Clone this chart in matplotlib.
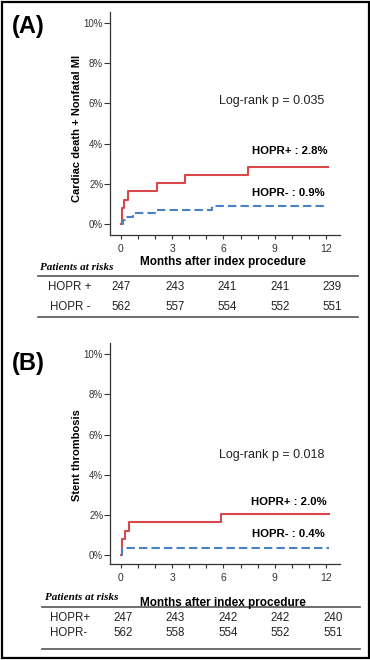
import matplotlib
matplotlib.use("Agg")
import matplotlib.pyplot as plt
from matplotlib.lines import Line2D
from matplotlib.patches import Rectangle

plt.rcParams['font.family'] = ['Liberation Sans', 'DejaVu Sans']

# ---- data ----
months = [0, 3, 6, 9, 12]

# (A) cardiac death + nonfatal MI, cumulative %
a_pos_t = [0, 0.05, 0.2, 0.4, 2.1, 3.75, 7.45, 12.1]
a_pos_y = [0, 0.81, 1.21, 1.62, 2.02, 2.43, 2.83, 2.83]
a_neg_t = [0, 0.1, 0.25, 0.7, 2.0, 5.35, 12.1]
a_neg_y = [0, 0.18, 0.36, 0.53, 0.71, 0.89, 0.89]

# (B) stent thrombosis, cumulative %
b_pos_t = [0, 0.05, 0.25, 0.45, 5.85, 12.2]
b_pos_y = [0, 0.81, 1.21, 1.62, 2.02, 2.02]
b_neg_t = [0, 0.05, 12.2]
b_neg_y = [0, 0.36, 0.36]

a_risk_labels = ["HOPR +", "HOPR -"]
a_risk_pos = [247, 243, 241, 241, 239]
a_risk_neg = [562, 557, 554, 552, 551]
b_risk_labels = ["HOPR+", "HOPR-"]
b_risk_pos = [247, 243, 242, 242, 240]
b_risk_neg = [562, 558, 554, 552, 551]

RED = "#d9474a"
BLUE = "#4a80c8"
W, H = 370, 660

fig = plt.figure(figsize=(W / 100, H / 100), dpi=100)


def fx(x):
    return x / W


def fy(y):
    return 1 - y / H


def panel(top, bottom, pos_t, pos_y, neg_t, neg_y, ylabel, ylab_y, letter,
          logrank, pos_txt, neg_txt, pos_txt_y, neg_txt_y, ylim, letter_y, lr_y):
    ax = fig.add_axes([fx(110), fy(bottom), fx(340) - fx(110), fy(top) - fy(bottom)])
    ax.step(pos_t, pos_y, where='post', color=RED, lw=1.5)
    ax.step(neg_t, neg_y, where='post', color=BLUE, lw=1.5, dashes=(4, 2))
    ax.set_xlim(-0.64, 12.82)
    ax.set_ylim(*ylim)
    ax.set_xticks(range(13))
    ax.set_xticklabels([str(m) if m in months else "" for m in range(13)])
    ax.set_yticks([0, 2, 4, 6, 8, 10])
    ax.set_yticklabels(["0%", "2%", "4%", "6%", "8%", "10%"])
    for s in ['top', 'right']:
        ax.spines[s].set_visible(False)
    for s in ['left', 'bottom']:
        ax.spines[s].set_color('#333333')
        ax.spines[s].set_linewidth(0.9)
    ax.tick_params(axis='x', length=3.1, width=0.8, pad=3.5, labelsize=7.5,
                   colors='#333333')
    ax.tick_params(axis='y', length=4.3, width=0.8, pad=0.6, labelsize=7,
                   colors='#333333')
    fig.text(fx(77), fy(ylab_y), ylabel, rotation=90, fontsize=8,
             fontweight='bold', ha='center', va='center')
    fig.text(fx(28), fy(letter_y), letter, fontsize=17, fontweight='bold',
             ha='center', va='center')
    fig.text(fx(272), fy(lr_y), logrank, fontsize=9, ha='center', va='center',
             color='#222222')
    fig.text(fx(327), fy(pos_txt_y), pos_txt, fontsize=8.2, fontweight='bold',
             ha='right', va='center')
    fig.text(fx(325), fy(neg_txt_y), neg_txt, fontsize=8.2, fontweight='bold',
             ha='right', va='center')
    return ax


def risk_table(xlab_y, pat_x, pat_y, line_y, rows_y, bottom_y, labels, pos, neg,
               num_x, lab_x, lab_ha, line_x):
    fig.text(fx(223), fy(xlab_y), "Months after index procedure", fontsize=8.5,
             fontweight='bold', ha='center', va='center')
    fig.text(fx(pat_x), fy(pat_y), "Patients at risks", fontsize=8,
             fontweight='bold', fontstyle='italic', family='Liberation Serif',
             ha='left', va='center')
    for ly in (line_y, bottom_y):
        fig.add_artist(Line2D([fx(line_x[0]), fx(line_x[1])], [fy(ly), fy(ly)],
                              color='#555555', lw=1.2))
    for lab, vals, ry in zip(labels, (pos, neg), rows_y):
        fig.text(fx(lab_x), fy(ry), lab, fontsize=8.3, ha=lab_ha, va='center',
                 color='#222222')
        for v, x in zip(vals, num_x):
            fig.text(fx(x), fy(ry), str(v), fontsize=8.3, ha='center',
                     va='center', color='#222222')


panel(12, 234.7, a_pos_t, a_pos_y, a_neg_t, a_neg_y,
      "Cardiac death + Nonfatal MI", 128, "(A)", "Log-rank p = 0.035",
      "HOPR+ : 2.8%", "HOPR- : 0.9%", 151, 193, (-0.53, 10.55), 27, 101)
risk_table(262, 40, 267, 276, (287, 307), 317, a_risk_labels, a_risk_pos,
           a_risk_neg, [121, 175, 227, 280, 332], 70, 'center', (38, 358))

panel(343, 564, b_pos_t, b_pos_y, b_neg_t, b_neg_y,
      "Stent thrombosis", 455, "(B)", "Log-rank p = 0.018",
      "HOPR+ : 2.0%", "HOPR- : 0.4%", 502, 534, (-0.45, 10.56), 363, 455)
risk_table(603, 45, 598, 607, (618, 633), 649, b_risk_labels, b_risk_pos,
           b_risk_neg, [123, 175, 228, 280, 333], 50, 'left', (42, 360))

# outer frame
fig.add_artist(Rectangle((fx(1.5), fy(657.5)), fx(367), fy(1.5) - fy(657.5),
                         fill=False, ec='black', lw=1.6))

fig.savefig("out.png", dpi=100)
